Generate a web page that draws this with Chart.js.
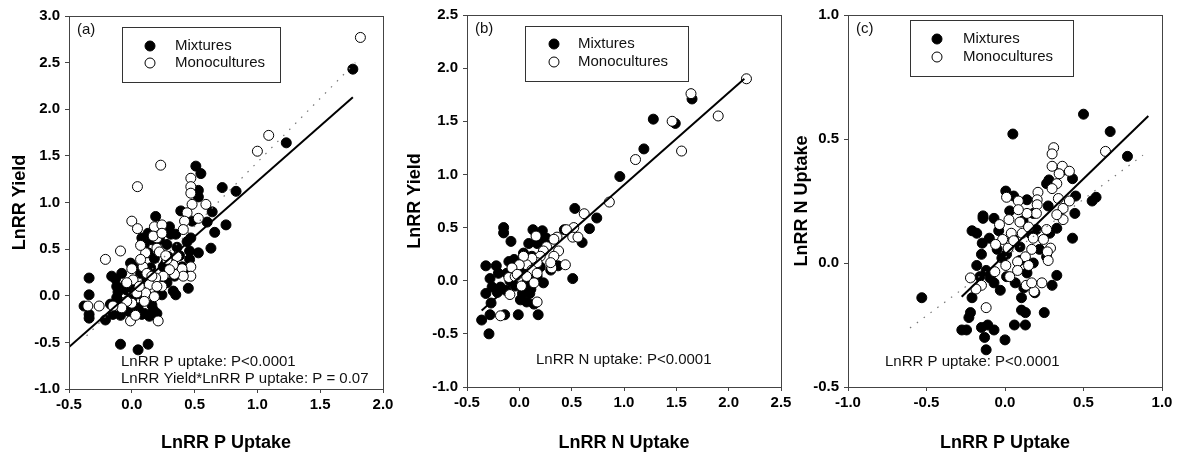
<!DOCTYPE html>
<html>
<head>
<meta charset="utf-8">
<script src="https://cdn.jsdelivr.net/npm/chart.js@4.4.1/dist/chart.umd.min.js"></script>
<style>
  body { margin: 0; background: #fff; width: 1180px; height: 454px; position: relative; overflow: hidden; }
  canvas { position: absolute; top: 0; }
</style>
</head>
<body>
<canvas id="chartA" width="400" height="454" style="left:0px"></canvas>
<canvas id="chartB" width="410" height="454" style="left:390px"></canvas>
<canvas id="chartC" width="400" height="454" style="left:780px"></canvas>
<script>
// ---- data ----
// panel (a): LnRR P uptake vs LnRR yield
const aMixtures = [[1.76,2.43],[1.23,1.64],[0.83,1.12],[0.72,1.16],[0.75,0.76],[0.64,0.90],[0.66,0.68],[0.63,0.51],[0.60,0.79],[0.51,1.39],[0.55,1.31],[0.53,1.13],[0.53,1.06],[0.48,0.80],[0.53,0.46],[0.46,0.48],[0.46,0.39],[0.45,0.08],[0.39,0.91],[0.36,0.52],[0.35,0.01],[0.24,0.01],[0.30,0.74],[0.19,0.85],[0.13,0.67],[0.16,0.60],[0.22,0.60],[0.28,0.55],[0.28,0.14],[0.34,0.21],[0.13,0.46],[0.07,0.24],[0.01,0.31],[-0.01,0.35],[-0.09,-0.52],[0.05,-0.58],[0.13,-0.52],[-0.34,0.19],[-0.34,0.01],[-0.38,-0.11],[-0.34,-0.20],[-0.34,-0.24],[-0.21,-0.26],[-0.17,-0.09],[-0.16,0.21],[-0.13,0.18],[-0.12,0.10],[-0.10,-0.06],[-0.12,-0.02],[-0.15,-0.20],[-0.09,-0.21],[0.10,-0.19],[0.14,-0.22],[0.20,-0.19],[0.16,-0.10],[0.05,-0.13],[-0.04,0.06],[0.00,-0.04],[-0.08,0.24],[0.25,0.31],[0.29,0.42],[0.40,0.31],[0.42,0.24],[0.12,0.17],[0.22,0.06],[0.08,0.62],[0.10,0.55],[0.18,0.40],[0.31,0.66],[0.35,0.66],[0.02,-0.15],[-0.05,0.12],[0.06,0.02],[-0.02,-0.17],[0.33,0.05],[0.27,0.35],[0.15,0.30],[0.38,0.43],[-0.07,-0.10],[0.08,-0.20],[0.17,-0.15],[0.44,0.58],[0.47,0.62],[-0.11,0.04],[0.03,0.10]];
const aMonocultures = [[1.82,2.77],[1.09,1.72],[1.00,1.55],[0.23,1.40],[0.045,1.17],[0.00,0.80],[0.045,0.72],[-0.09,0.48],[-0.21,0.39],[0.47,1.26],[0.47,1.17],[0.47,1.10],[0.48,0.98],[0.59,0.98],[0.53,0.83],[0.44,0.89],[0.42,0.80],[0.41,0.71],[0.18,0.74],[0.24,0.76],[0.20,0.62],[0.17,0.64],[0.24,0.67],[0.11,0.46],[0.07,0.54],[0.20,0.51],[0.47,0.31],[0.47,0.21],[0.40,0.29],[0.41,0.21],[0.36,0.42],[0.33,0.33],[0.28,0.39],[0.34,0.23],[0.30,0.28],[0.25,0.21],[0.19,0.19],[0.14,0.12],[0.09,0.31],[0.12,0.24],[0.07,0.39],[0.01,0.17],[0.00,0.29],[-0.04,0.14],[0.11,0.03],[0.04,0.03],[0.00,-0.08],[-0.04,-0.06],[-0.08,-0.13],[-0.15,-0.11],[-0.26,-0.11],[-0.35,-0.11],[-0.01,-0.27],[0.03,-0.21],[0.21,-0.27],[0.10,-0.06],[0.18,-0.01],[0.24,0.10],[0.20,0.10],[0.16,0.21],[0.06,0.10],[0.22,0.47],[0.27,0.43]];
const aFit = [[-0.5,-0.55],[1.76,2.13]];
const aDotted = [[-0.36,-0.43],[1.78,2.50]];

// panel (b): LnRR N uptake vs LnRR yield
const bMixtures = [[1.65,1.71],[1.49,1.48],[1.28,1.52],[1.19,1.24],[0.96,0.98],[0.74,0.59],[0.67,0.49],[0.60,0.36],[0.53,0.68],[0.51,0.02],[0.37,0.14],[0.43,0.48],[-0.15,0.50],[-0.15,0.45],[-0.08,0.37],[-0.32,0.14],[-0.22,0.14],[-0.20,0.07],[-0.28,0.02],[-0.32,-0.12],[-0.26,-0.06],[-0.21,-0.11],[-0.36,-0.37],[-0.29,-0.50],[-0.28,-0.32],[-0.27,-0.21],[-0.14,-0.32],[-0.01,-0.32],[0.18,-0.32],[0.14,-0.22],[0.13,0.48],[0.22,0.47],[0.26,0.40],[0.09,0.35],[0.17,0.35],[-0.10,0.18],[-0.05,0.20],[0.04,0.26],[0.12,0.23],[-0.12,0.07],[-0.09,0.00],[-0.04,-0.05],[0.03,-0.12],[0.10,-0.12],[0.07,-0.02],[0.17,0.04],[0.23,-0.02],[0.20,0.13],[0.30,0.10],[0.04,0.10],[-0.02,0.13],[-0.13,-0.09],[-0.18,-0.06],[0.07,-0.20],[0.01,-0.18],[0.24,0.36],[0.18,0.41],[0.11,-0.08],[-0.03,0.16]];
const bMonocultures = [[2.17,1.90],[1.64,1.76],[1.46,1.50],[1.90,1.55],[1.55,1.22],[1.11,1.14],[0.86,0.74],[0.62,0.63],[0.52,0.50],[0.45,0.48],[0.51,0.41],[0.56,0.41],[0.36,0.41],[0.33,0.39],[0.44,0.15],[0.31,0.12],[0.375,0.28],[0.33,0.23],[0.26,0.32],[0.30,0.17],[0.16,0.42],[0.23,0.28],[0.20,0.23],[0.17,0.17],[0.12,0.21],[0.07,0.15],[0.04,0.23],[0.12,0.10],[0.17,0.07],[0.07,0.04],[0.00,0.15],[-0.07,0.12],[-0.10,0.03],[-0.04,0.04],[0.02,-0.05],[-0.09,-0.13],[0.17,-0.20],[-0.18,-0.33],[-0.02,0.06],[0.14,-0.02]];
const bFit = [[-0.36,-0.28],[2.15,1.90]];

// panel (c): LnRR P uptake vs LnRR N uptake
const cMixtures = [[0.50,0.60],[0.67,0.53],[0.78,0.43],[0.05,0.52],[0.43,0.34],[0.45,0.27],[0.58,0.265],[0.555,0.25],[0.445,0.20],[0.43,0.10],[0.33,-0.05],[0.30,-0.09],[0.25,-0.20],[0.13,-0.25],[0.06,-0.25],[0.00,-0.31],[-0.12,-0.35],[-0.13,-0.30],[-0.15,-0.26],[-0.11,-0.25],[-0.07,-0.27],[-0.275,-0.27],[-0.245,-0.27],[-0.23,-0.22],[-0.22,-0.20],[-0.21,-0.14],[-0.53,-0.14],[0.105,-0.19],[0.13,-0.20],[0.105,-0.14],[0.19,-0.12],[0.275,0.23],[0.265,0.32],[0.28,0.335],[0.375,0.375],[-0.21,0.13],[-0.18,0.12],[-0.14,0.19],[-0.14,0.18],[-0.145,0.08],[-0.15,0.035],[-0.18,-0.01],[-0.16,-0.055],[-0.095,-0.06],[-0.07,-0.08],[-0.03,-0.11],[0.005,0.29],[0.055,0.27],[0.14,0.255],[-0.07,0.18],[-0.04,0.13],[-0.05,0.055],[0.01,0.035],[0.055,0.095],[0.095,0.065],[0.01,-0.055],[0.065,-0.08],[0.14,-0.04],[0.18,0.00],[0.16,0.12],[0.20,0.135],[0.22,0.055],[0.285,0.12],[0.33,0.14],[0.265,0.025],[0.03,0.21],[0.115,0.17],[0.18,0.20],[0.095,0.01],[-0.10,0.10],[-0.02,0.02],[0.12,-0.10],[-0.12,-0.03]];
const cMonocultures = [[0.31,0.465],[0.30,0.44],[0.64,0.45],[0.30,0.39],[0.365,0.39],[0.41,0.37],[0.345,0.36],[0.33,0.32],[0.30,0.30],[0.41,0.25],[0.37,0.22],[0.37,0.175],[0.34,0.26],[0.33,0.195],[0.21,0.285],[0.205,0.255],[0.205,0.235],[0.20,0.20],[0.14,0.20],[0.01,0.265],[0.085,0.25],[0.085,0.215],[0.025,0.175],[-0.035,0.155],[0.095,0.165],[0.11,0.12],[0.15,0.145],[0.04,0.12],[-0.015,0.095],[-0.06,0.075],[0.02,0.06],[0.18,0.10],[0.245,0.095],[0.265,0.135],[0.29,0.06],[0.27,0.045],[0.17,0.055],[0.13,0.025],[0.08,0.005],[0.005,-0.01],[0.08,-0.03],[0.15,-0.01],[0.275,0.01],[0.03,-0.055],[-0.065,-0.035],[-0.22,-0.06],[-0.15,-0.09],[-0.185,-0.105],[-0.12,-0.18],[0.135,-0.09],[0.185,-0.115],[0.235,-0.08],[0.17,-0.08],[0.055,0.09]];
const cFit = [[-0.276,-0.136],[0.913,0.593]];
const cDotted = [[-0.605,-0.262],[0.879,0.435]];

const legendLabels = ['Mixtures', 'Monocultures'];

const FONT = "'Liberation Sans', Arial, sans-serif";
const AXIS_COLOR = '#444';
const DOT_R = 5;

const toPts = arr => arr.map(p => ({ x: p[0], y: p[1] }));

// frame, legend box, panel letter and p-value notes
function decorPlugin(d) {
  return {
    id: 'decor',
    afterDraw(chart) {
      const ctx = chart.ctx;
      const a = chart.chartArea;
      ctx.save();
      ctx.strokeStyle = AXIS_COLOR;
      ctx.lineWidth = 1;
      ctx.strokeRect(a.left + 0.5, a.top + 0.5, a.right - a.left, a.bottom - a.top);

      // legend box
      const lx = a.left + d.legend[0], ly = a.top + d.legend[1];
      ctx.strokeStyle = '#333';
      ctx.strokeRect(lx + 0.5, ly + 0.5, d.legend[2], d.legend[3]);
      ctx.font = '15px ' + FONT;
      ctx.textBaseline = 'middle';
      legendLabels.forEach((lab, i) => {
        const my = ly + d.rows[i];
        ctx.beginPath();
        ctx.arc(lx + d.markX, my, DOT_R, 0, Math.PI * 2);
        ctx.fillStyle = i === 0 ? '#000' : '#fff';
        ctx.fill();
        ctx.strokeStyle = '#000';
        ctx.stroke();
        ctx.fillStyle = '#111';
        ctx.fillText(lab, lx + 53, my);
      });

      ctx.fillStyle = '#111';
      ctx.fillText(d.letter, a.left + 8, a.top + 14);
      d.notes.forEach(n => ctx.fillText(n[0], a.left + n[1], a.top + n[2]));
      ctx.restore();
    }
  };
}

function makePanel(id, p) {
  const datasets = [
    {
      type: 'line', data: toPts(p.fit), borderColor: '#000', borderWidth: 2,
      pointRadius: 0, fill: false, order: 0
    },
    {
      label: legendLabels[1], data: toPts(p.mono), backgroundColor: '#fff',
      borderColor: '#000', borderWidth: 1, pointRadius: DOT_R, order: 2
    },
    {
      label: legendLabels[0], data: toPts(p.mix), backgroundColor: '#000',
      borderColor: '#000', borderWidth: 1, pointRadius: DOT_R, order: 3
    }
  ];
  if (p.dotted) {
    datasets.push({
      type: 'line', data: toPts(p.dotted), borderColor: '#777', borderWidth: 1.2,
      borderDash: [1.5, 7], pointRadius: 0, fill: false, order: 1
    });
  }

  const tickFont = { family: FONT, size: 15, weight: 'bold' };
  const titleFont = { family: FONT, size: 18, weight: 'bold' };

  new Chart(document.getElementById(id), {
    type: 'scatter',
    data: { datasets },
    options: {
      responsive: false,
      animation: false,
      events: [],
      layout: { padding: { top: p.top, right: p.right, left: 0, bottom: 0 } },
      plugins: { legend: { display: false }, tooltip: { enabled: false } },
      scales: {
        x: {
          type: 'linear', min: p.x[0], max: p.x[1],
          ticks: { stepSize: 0.5, font: tickFont, color: '#000', padding: 3, maxRotation: 0,
                   callback: v => v.toFixed(1) },
          grid: { drawOnChartArea: false, tickLength: 4, tickColor: AXIS_COLOR },
          border: { color: AXIS_COLOR },
          title: { display: true, text: p.xTitle, font: titleFont, color: '#000', padding: { top: 0, bottom: 0 } },
          afterFit: s => { s.height = p.xh; s.paddingLeft = 0; s.paddingRight = 0; }
        },
        y: {
          type: 'linear', min: p.y[0], max: p.y[1],
          ticks: { stepSize: 0.5, font: tickFont, color: '#000', padding: 5,
                   callback: v => v.toFixed(1) },
          grid: { drawOnChartArea: false, tickLength: 4, tickColor: AXIS_COLOR },
          border: { color: AXIS_COLOR },
          title: { display: true, text: p.yTitle, font: titleFont, color: '#000', padding: { top: p.yTitlePad, bottom: 0 } },
          afterFit: s => { s.width = p.yw; s.paddingTop = 0; s.paddingBottom = 0; }
        }
      }
    },
    plugins: [decorPlugin(p.decor)]
  });
}

makePanel('chartA', {
  mix: aMixtures, mono: aMonocultures, fit: aFit, dotted: aDotted,
  x: [-0.5, 2.0], y: [-1.0, 3.0], xTitle: 'LnRR P Uptake', yTitle: 'LnRR Yield',
  top: 16, right: 17, yw: 69, xh: 65, yTitlePad: 9,
  decor: { legend: [53, 11, 158, 55], markX: 28, rows: [19, 36], letter: '(a)',
           notes: [['LnRR P uptake: P<0.0001', 52, 346], ['LnRR Yield*LnRR P uptake: P = 0.07', 52, 363]] }
});

makePanel('chartB', {
  mix: bMixtures, mono: bMonocultures, fit: bFit, dotted: null,
  x: [-0.5, 2.5], y: [-1.0, 2.5], xTitle: 'LnRR N Uptake', yTitle: 'LnRR Yield',
  top: 15, right: 19, yw: 77, xh: 67, yTitlePad: 14,
  decor: { legend: [58, 11, 163, 55], markX: 29, rows: [18, 36], letter: '(b)',
           notes: [['LnRR N uptake: P<0.0001', 69, 345]] }
});

makePanel('chartC', {
  mix: cMixtures, mono: cMonocultures, fit: cFit, dotted: cDotted,
  x: [-1.0, 1.0], y: [-0.5, 1.0], xTitle: 'LnRR P Uptake', yTitle: 'LnRR N Uptake',
  top: 15, right: 18, yw: 68, xh: 67, yTitlePad: 11,
  decor: { legend: [62, 5, 163, 56], markX: 27, rows: [19, 37], letter: '(c)',
           notes: [['LnRR P uptake: P<0.0001', 37, 347]] }
});
</script>
</body>
</html>
